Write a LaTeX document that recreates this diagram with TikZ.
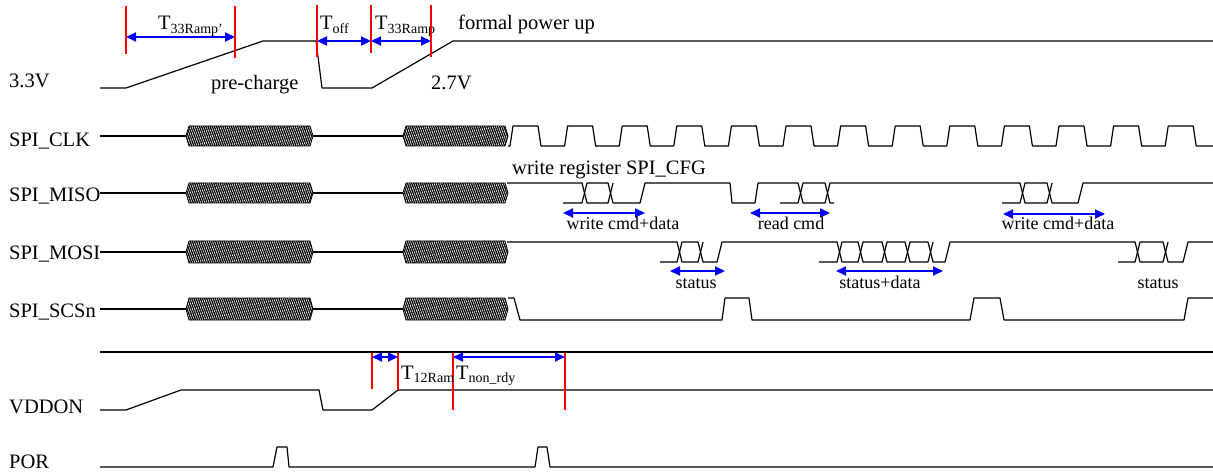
\documentclass[tikz,border=0pt]{standalone}
\usepackage{fontspec}
\setmainfont{Liberation Serif}
\usetikzlibrary{arrows.meta,patterns.meta}

\newcommand{\biglbl}{\fontsize{20.5}{24}\selectfont}
\newcommand{\midlbl}{\fontsize{18}{21}\selectfont}
\newcommand{\Tsub}[1]{T\raisebox{-3.5pt}{\fontsize{14}{14}\selectfont #1}}

\begin{document}
\begin{tikzpicture}[x=1pt,y=-1pt,
sig/.style={line width=1.2pt,line join=round},
redmark/.style={red,line width=1.3pt},
dimarr/.style={blue,line width=2pt,{Triangle[length=10pt,width=9pt]}-{Triangle[length=10pt,width=9pt]}},
hatch/.style={draw,line width=0.8pt,fill=black!25,pattern={Lines[angle=-70,distance=2pt,line width=1.3pt]}},
lbl/.style={font=\biglbl,inner sep=0pt,anchor=base west},
sublbl/.style={font=\midlbl,inner sep=0pt,anchor=base}]
\useasboundingbox (0,0) rectangle (1213,473);

% signal names
\node[lbl] (v33) at (9,88) {3.3V};
\node[lbl] (clk) at (9,147) {SPI\_CLK};
\node[lbl] (miso) at (9,202) {SPI\_MISO};
\node[lbl] (mosi) at (9,259) {SPI\_MOSI};
\node[lbl] (scsn) at (9,317) {SPI\_SCSn};
\node[lbl] (vddon) at (9,413) {VDDON};
\node[lbl] (por) at (9,468) {POR};

% 3.3V supply
\draw[sig] (100,88)--(126,88)--(263,41)--(316,41)--(322,88)--(372,88)--(453,41)--(1213,41);
\node[lbl] (tramp1) at (158,30) {\Tsub{33Ramp'}};
\node[lbl] (toff) at (320,30) {\Tsub{off}};
\node[lbl] (tramp2) at (375,30) {\Tsub{33Ramp}};
\node[lbl] (formal) at (458,30) {formal power up};
\node[lbl] (precharge) at (211,90) {pre-charge};
\node[lbl] (v27) at (431,90) {2.7V};
\foreach \x/\ya/\yb in {126/6/54, 235/6/58, 317/5/57, 371/5/53, 431/5/57}
  \draw[redmark] (\x,\ya) -- (\x,\yb);
\coordinate (r1) at (126,37);
\coordinate (r2) at (235,37);
\coordinate (r3) at (317,41);
\coordinate (r4) at (371,41);
\coordinate (r5) at (431,41);
\draw[dimarr] (r1) -- (r2);
\draw[dimarr] (r3) -- (r4);
\draw[dimarr] (r4) -- (r5);

% hatched bursts on the SPI lines
\foreach \m/\h in {136/10, 193/10, 252/11, 309/11} {
  \draw[sig] (100,\m) -- (186,\m) (313,\m) -- (403,\m);
  \foreach \a/\b in {186/313, 403/508}
    \draw[hatch] (\a,\m) -- (\a+3,\m-\h) -- (\b-3,\m-\h) -- (\b,\m) -- (\b-3,\m+\h) -- (\a+3,\m+\h) -- cycle;
}

% SPI_CLK
\draw[sig] (508,146) \foreach \k in {0,...,12} {
  -- ({510+54.6*\k},146) -- ({513+54.6*\k},126) -- ({538+54.6*\k},126) -- ({541+54.6*\k},146) } -- (1213,146);

% SPI_MISO
\draw[sig] (507,183)--(582,183)--(587,203)--(608,203)--(613,183);
\draw[sig] (563,203)--(582,203)--(587,183)--(608,183)--(613,203)--(640,203)--(645,183)--(730,183)--(732,203)--(755,203)--(758,183)
  --(798,183)--(803,203)--(825,203)--(830,183)--(1020,183)--(1025,203)--(1047,203)--(1052,183);
\draw[sig] (780,203)--(798,203)--(803,183)--(825,183)--(830,203)--(834,203);
\draw[sig] (1002,203)--(1020,203)--(1025,183)--(1047,183)--(1052,203)--(1078,203)--(1083,183)--(1213,183);
\node[lbl] (wreg) at (512,175) {write register SPI\_CFG};
\coordinate (w1a) at (563,213);
\coordinate (w1b) at (645,213);
\coordinate (rda) at (750,213);
\coordinate (rdb) at (830,213);
\coordinate (w2a) at (1003,214);
\coordinate (w2b) at (1105,214);
\draw[dimarr] (w1a) -- (w1b);
\draw[dimarr] (rda) -- (rdb);
\draw[dimarr] (w2a) -- (w2b);
\node[sublbl] (wcmd1) at (623,230) {write cmd+data};
\node[sublbl] (rcmd) at (791,230) {read cmd};
\node[sublbl] (wcmd2) at (1058,230) {write cmd+data};

% SPI_MOSI
\draw[sig] (507,242)--(677,242)--(682,262)--(698,262)--(703,242);
\draw[sig] (660,262)--(677,262)--(682,242)--(698,242)--(703,262)--(717,262)--(722,242)--(837,242)--(842,262)--(858,262)--(863,242)
  --(882,242)--(887,262)--(905,262)--(910,242)--(928,242)--(933,262)--(945,262)--(950,242)--(1135,242)--(1140,262)--(1163,262)--(1168,242);
\draw[sig] (819,262)--(837,262)--(842,242)--(858,242)--(863,262)--(882,262)--(887,242)--(905,242)--(910,262)--(928,262)--(933,242);
\draw[sig] (1118,262)--(1135,262)--(1140,242)--(1163,242)--(1168,262)--(1183,262)--(1188,242)--(1213,242);
\coordinate (s1a) at (670,271);
\coordinate (s1b) at (725,271);
\coordinate (sda) at (836,271);
\coordinate (sdb) at (943,271);
\draw[dimarr] (s1a) -- (s1b);
\draw[dimarr] (sda) -- (sdb);
\node[sublbl] (st1) at (696,288) {status};
\node[sublbl] (stdata) at (880,288) {status+data};
\node[sublbl] (st2) at (1158,288) {status};

% SPI_SCSn
\draw[sig] (508,298)--(514,298)--(520,320)--(722,320)--(725,298)--(749,298)--(752,320)--(970,320)--(974,298)--(1000,298)--(1004,320)
  --(1184,320)--(1188,298)--(1213,298);

% VDDON and POR
\draw[sig] (100,352)--(1213,352);
\draw[sig] (100,410)--(126,410)--(181,390)--(319,390)--(323,410)--(372,410)--(398,390)--(1213,390);
\draw[sig] (100,467)--(273,467)--(277,447)--(287,447)--(289,467)--(535,467)--(538,447)--(547,447)--(550,467)--(1213,467);
\foreach \x/\yb in {372/389, 398/390, 453/410, 565/410}
  \draw[redmark] (\x,353) -- (\x,\yb);
\coordinate (v1) at (372,357);
\coordinate (v2) at (398,357);
\coordinate (v3) at (453,357);
\coordinate (v4) at (565,357);
\draw[dimarr] (v1) -- (v2);
\draw[dimarr] (v3) -- (v4);
\node[lbl] (t12) at (401,379) {\Tsub{12Ram}};
\node[lbl] (tnon) at (456,379) {\Tsub{non\_rdy}};
\end{tikzpicture}
\end{document}
